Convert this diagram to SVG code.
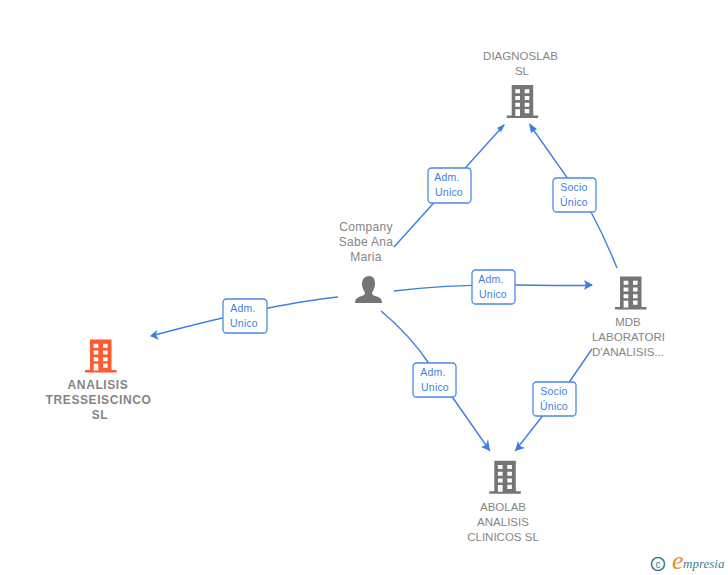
<svg xmlns="http://www.w3.org/2000/svg" width="728" height="575" viewBox="0 0 728 575">
<style>
.lbl{font-family:"Liberation Sans",Arial,sans-serif;font-size:11.500px;fill:#858585;text-anchor:middle}
.c{font-size:12px;letter-spacing:.3px}
.b{font-size:12px;font-weight:bold;fill:#858585;letter-spacing:.6px}
.edge{fill:none;stroke:#3c7fe0;stroke-width:1.4}
.box{fill:#fff;stroke:#4a8be6;stroke-width:1.3}
.bt{font-family:"Liberation Sans",Arial,sans-serif;font-size:10.500px;fill:#3c7fe0;text-anchor:middle;letter-spacing:.2px}
.hd{fill:#3c7fe0}
</style>
<defs>
<g id="bld">
<path fill-rule="evenodd" d="M5 0H26.500V30.500H31.500V33H0V30.500H5ZM8.600 4.300V8.300H13.300V4.300ZM18 4.300V8.300H22.600V4.300ZM8.600 11V15H13.300V11ZM18 11V15H22.600V11ZM8.600 17.700V21.700H13.300V17.700ZM18 17.700V21.700H22.600V17.700ZM8.600 24.300V31H13.300V24.300ZM18 24V28.300H22.600V24Z"/>
</g>
</defs>
<g id="connectors">
<path class="edge" d="M394 247L504 125"/>
<path class="hd" d="M505 124L497 128L501 132Z"/>
<path class="edge" d="M617 268Q605 238 590 210L530 125"/>
<path class="hd" d="M529 123L531 133L537 129Z"/>
<path class="edge" d="M394 291Q450 284 520 285T592 285"/>
<path class="hd" d="M593 285L584 280L586 285L584 290Z"/>
<path class="edge" d="M338 297Q270 304 151 336"/>
<path class="hd" d="M150 336L157 330L156 335L159 340Z"/>
<path class="edge" d="M381 311Q410 335 430 365L490 451"/>
<path class="hd" d="M490 451L481 447L486 445L488 439Z"/>
<path class="edge" d="M592 349L570 381L515 451"/>
<path class="hd" d="M515 451L518 441L520 446L525 448Z"/>
</g>
<g id="label-1"><rect class="box" x="428" y="168" width="43" height="35" rx="3.500"/><text class="bt" x="447" y="181">Adm.</text><text class="bt" x="449" y="196">Unico</text></g>
<g id="label-2"><rect class="box" x="553" y="178" width="43" height="34" rx="3.500"/><text class="bt" x="574" y="191">Socio</text><text class="bt" x="574" y="206">Único</text></g>
<g id="label-3"><rect class="box" x="472" y="270" width="43" height="34" rx="3.500"/><text class="bt" x="491" y="283">Adm.</text><text class="bt" x="493" y="298">Unico</text></g>
<g id="label-4"><rect class="box" x="223" y="299" width="44" height="34" rx="3.500"/><text class="bt" x="243" y="312">Adm.</text><text class="bt" x="244" y="327">Unico</text></g>
<g id="label-5"><rect class="box" x="413" y="363" width="43" height="34" rx="3.500"/><text class="bt" x="433" y="376">Adm.</text><text class="bt" x="435" y="391">Unico</text></g>
<g id="label-6"><rect class="box" x="533" y="382" width="43" height="34" rx="3.500"/><text class="bt" x="554" y="395">Socio</text><text class="bt" x="554" y="410">Único</text></g>
<g id="diagnoslab"><use href="#bld" x="506.700" y="85" fill="#757575"/><text class="lbl" x="520.500" y="60">DIAGNOSLAB</text><text class="lbl" x="522" y="75">SL</text></g>
<g id="company"><text class="lbl c" x="366" y="231">Company</text><text class="lbl c" x="366" y="246">Sabe Ana</text><text class="lbl c" x="366" y="261">Maria</text>
<path fill="#757575" d="M369 276C364 276 362 280 362 284C362 288 364 291 365 293C365 295 362 296 359 297C356 298 355 300 355 303H382C382 300 381 298 378 297C375 296 372 295 372 293C373 291 375 288 375 284C375 280 374 276 369 276Z"/></g>
<g id="mdb"><use href="#bld" x="615" y="276.500" fill="#757575"/><text class="lbl" x="628" y="326">MDB</text><text class="lbl" x="628.500" y="341">LABORATORI</text><text class="lbl" x="628" y="356">D'ANALISIS...</text></g>
<g id="analisis"><use href="#bld" x="85" y="339.500" fill="#ff5a30"/><text class="lbl b" x="98" y="389">ANALISIS</text><text class="lbl b" x="98.500" y="404">TRESSEISCINCO</text><text class="lbl b" x="100" y="419">SL</text></g>
<g id="abolab"><use href="#bld" x="489.300" y="460.700" fill="#757575"/><text class="lbl" x="503" y="511">ABOLAB</text><text class="lbl" x="503" y="526">ANALISIS</text><text class="lbl" x="503" y="541">CLINICOS SL</text></g>
<g id="logo"><circle cx="658" cy="564" r="6.500" fill="none" stroke="#3f7f93" stroke-width="1.600"/><text x="658" y="567.500" font-family="Liberation Sans,sans-serif" font-size="10" fill="#3f7f93" text-anchor="middle">c</text>
<text x="672" y="569" font-family="Liberation Serif,serif" font-style="italic" font-size="26" fill="#f08a1d">e</text>
<text x="683" y="568" font-family="Liberation Serif,serif" font-style="italic" font-size="13" fill="#3f7f93">mpresia</text></g>
</svg>
